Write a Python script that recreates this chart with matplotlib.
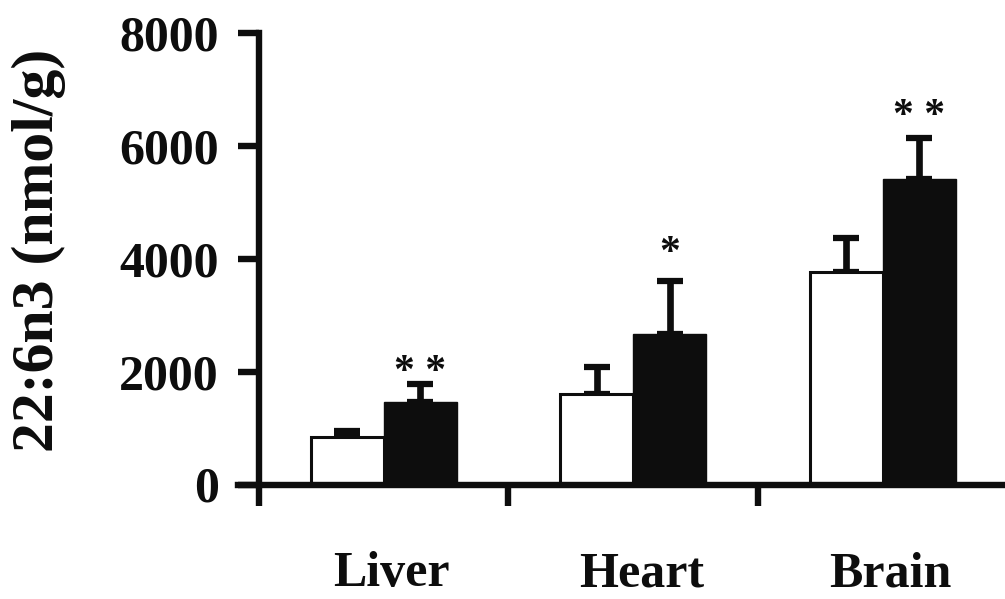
import matplotlib
matplotlib.use("Agg")
import matplotlib.pyplot as plt
import matplotlib.transforms as mtransforms
import numpy as np

categories = ["Liver", "Heart", "Brain"]
control_mean = [837, 1599, 3773]
control_err = [106, 484, 592]
treated_mean = [1457, 2663, 5411]
treated_err = [325, 940, 727]
stars = ["* *", "*", "* *"]
star_y = [1800, 3910, 6340]
yticks = [0, 2000, 4000, 6000, 8000]

plt.rcParams['font.family'] = ['Liberation Serif', 'DejaVu Serif']
plt.rcParams['font.weight'] = 'bold'

fig = plt.figure(figsize=(10.05, 5.99), dpi=100)
ax = fig.add_axes([238/1005, (599-484.5)/599, (1005-238)/1005, (484.5-33)/599])

x = np.arange(len(categories))
w = 0.293
ink = '#0d0d0d'

ax.bar(x - w/2, control_mean, w, color='white', edgecolor=ink, linewidth=2.2, zorder=2)
ax.bar(x + w/2, treated_mean, w, color=ink, edgecolor=ink, linewidth=1.0, zorder=2)
ax.errorbar(x - w/2, control_mean, yerr=[np.zeros(3), control_err], fmt='none',
            ecolor=ink, elinewidth=4.8, capsize=9.7, capthick=4.5, zorder=1)
ax.errorbar(x + w/2, treated_mean, yerr=[np.zeros(3), treated_err], fmt='none',
            ecolor=ink, elinewidth=4.8, capsize=9.7, capthick=4.5, zorder=1)

for xi, s, sy in zip(x + w/2, stars, star_y):
    ax.text(xi, sy, s, ha='center', va='baseline', fontsize=30, fontweight='bold', color=ink)

ax.set_xlim(-0.584, 2.49)
ax.set_ylim(0, 8000)
ax.spines['left'].set_position(('data', -0.5))
ax.spines['top'].set_visible(False)
ax.spines['right'].set_visible(False)
for sp in ['left', 'bottom']:
    ax.spines[sp].set_linewidth(4.6)
    ax.spines[sp].set_color(ink)

ax.set_yticks(yticks)
ax.set_yticklabels([str(v) for v in yticks])
ax.tick_params(axis='y', direction='out', length=15, width=4.6, color=ink, pad=14,
               labelsize=36, labelcolor=ink)
ax.set_xticks([-0.5, 0.5, 1.5])
ax.set_xticklabels([])
ax.tick_params(axis='x', which='major', direction='out', length=15, width=4.6, color=ink)
ax.set_xticks(x, minor=True)
ax.set_xticklabels(categories, minor=True)
ax.tick_params(axis='x', which='minor', length=0, pad=48, labelsize=36, labelcolor=ink)
shift = mtransforms.ScaledTranslation(8/100, 0, fig.dpi_scale_trans)
for lab in ax.get_xticklabels(minor=True):
    lab.set_fontweight('bold')
    lab.set_transform(lab.get_transform() + shift)
for lab in ax.get_yticklabels():
    lab.set_fontweight('bold')

fig.text(39/1005, 1 - 250/599, "22:6n3 (nmol/g)", rotation=90, ha='center', va='center',
         fontsize=43, fontweight='bold', color=ink)

fig.savefig("out.png", dpi=100)
